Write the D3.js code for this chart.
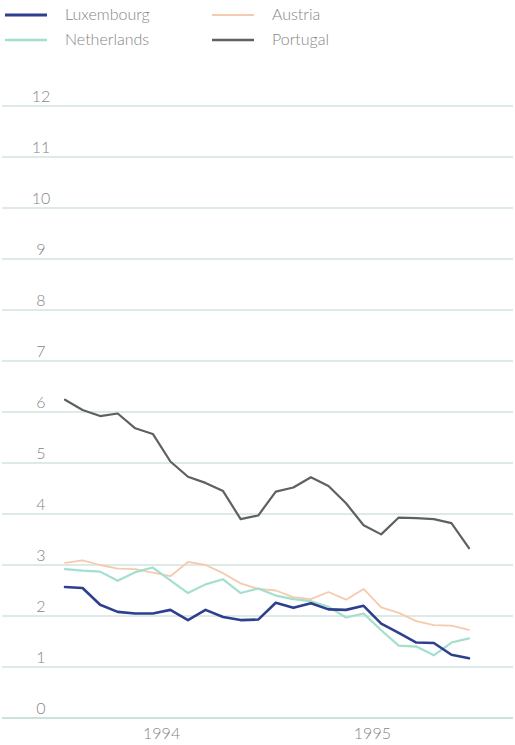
<!DOCTYPE html>
<html>
<head>
<meta charset="utf-8">
<script src="https://cdn.jsdelivr.net/npm/d3@7"></script>
<style>
  html, body { margin: 0; padding: 0; background: #ffffff; }
  svg { display: block; }
  text { font-family: Lato, "Open Sans", sans-serif; font-weight: 300; fill: #858585; }
</style>
</head>
<body>
<svg id="chart" width="515" height="745"></svg>
<script>
// Monthly categories, January 1994 to December 1995
const months = [
  "Jan 1994", "Feb 1994", "Mar 1994", "Apr 1994", "May 1994", "Jun 1994",
  "Jul 1994", "Aug 1994", "Sep 1994", "Oct 1994", "Nov 1994", "Dec 1994",
  "Jan 1995", "Feb 1995", "Mar 1995", "Apr 1995", "May 1995", "Jun 1995",
  "Jul 1995", "Aug 1995", "Sep 1995", "Oct 1995", "Nov 1995", "Dec 1995"
];
const years = ["1994", "1995"];
const yTicks = [0, 1, 2, 3, 4, 5, 6, 7, 8, 9, 10, 11, 12];

// Series values
const luxembourg = [2.57, 2.55, 2.22, 2.08, 2.05, 2.05, 2.12, 1.92, 2.12, 1.98, 1.92, 1.93,
                    2.26, 2.16, 2.25, 2.13, 2.12, 2.20, 1.85, 1.67, 1.48, 1.47, 1.24, 1.17];
const netherlands = [2.92, 2.89, 2.87, 2.69, 2.86, 2.95, 2.70, 2.45, 2.62, 2.72, 2.45, 2.54,
                     2.40, 2.33, 2.29, 2.18, 1.97, 2.05, 1.72, 1.42, 1.40, 1.23, 1.48, 1.56];
const austria = [3.04, 3.09, 3.00, 2.93, 2.92, 2.85, 2.78, 3.06, 3.00, 2.84, 2.64, 2.53,
                 2.50, 2.37, 2.33, 2.47, 2.32, 2.53, 2.17, 2.06, 1.90, 1.82, 1.81, 1.73];
const portugal = [6.24, 6.04, 5.92, 5.97, 5.68, 5.57, 5.03, 4.73, 4.61, 4.45, 3.90, 3.97,
                  4.44, 4.52, 4.72, 4.55, 4.21, 3.78, 3.60, 3.93, 3.92, 3.90, 3.82, 3.33];

const seriesNames = ["Luxembourg", "Netherlands", "Austria", "Portugal"];
const seriesValues = [luxembourg, netherlands, austria, portugal];
const seriesColors = ["#2e3f8d", "#a3dfcd", "#f6caae", "#5e6164"];
const seriesWidths = [2.6, 2.2, 1.8, 2.2];

const svg = d3.select("#chart");

const x = d3.scalePoint().domain(months).range([65, 469]);
const step = x.step();
const yearBand = d3.scaleBand().domain(years)
  .range([x(months[0]) - step / 2, x(months[months.length - 1]) + step / 2]);
const y = d3.scaleLinear().domain([0, 12]).range([718, 106]);

// Horizontal gridlines
svg.append("g")
  .selectAll("line")
  .data(yTicks)
  .join("line")
  .attr("x1", 2)
  .attr("x2", 513)
  .attr("y1", d => y(d))
  .attr("y2", d => y(d))
  .attr("stroke", d => d === 0 ? "#b9dad3" : "#d3e3df")
  .attr("stroke-width", 1.4);

// Y axis labels sit just above each gridline
const yAxis = svg.append("g")
  .attr("transform", "translate(41,0)")
  .call(d3.axisLeft(y).tickValues(yTicks).tickSize(0).tickFormat(d3.format("d")));
yAxis.select(".domain").remove();
yAxis.selectAll("text")
  .attr("x", 0)
  .attr("dy", "-0.3em")
  .attr("text-anchor", "middle")
  .attr("fill", "#8a8a8a")
  .style("font-family", "Lato, sans-serif")
  .style("font-weight", 300)
  .style("font-size", "16px");

// Year labels centred in each year's band
const xAxis = svg.append("g")
  .attr("transform", "translate(0,724)")
  .call(d3.axisBottom(yearBand).tickSize(0).tickPadding(0));
xAxis.select(".domain").remove();
xAxis.selectAll("text")
  .attr("dy", "0.95em")
  .attr("fill", "#8a8a8a")
  .style("font-family", "Lato, sans-serif")
  .style("font-weight", 300)
  .style("font-size", "16px");

// Series lines
const line = d3.line()
  .x((d, i) => x(months[i]))
  .y(d => y(d));

const order = [2, 1, 0, 3];
svg.append("g")
  .selectAll("path")
  .data(order)
  .join("path")
  .attr("d", i => line(seriesValues[i]))
  .attr("fill", "none")
  .attr("stroke", i => seriesColors[i])
  .attr("stroke-width", i => seriesWidths[i])
  .attr("stroke-linejoin", "round")
  .attr("stroke-linecap", "round");

// Legend: two columns, two rows
const legendPos = [[5, 15], [5, 40], [212, 15], [212, 40]];
const legend = svg.append("g")
  .selectAll("g")
  .data(seriesNames)
  .join("g")
  .attr("transform", (d, i) => `translate(${legendPos[i][0]},${legendPos[i][1]})`);
legend.append("line")
  .attr("x1", 0).attr("x2", 42)
  .attr("stroke", (d, i) => seriesColors[i])
  .attr("stroke-width", (d, i) => seriesWidths[i] + 0.4);
legend.append("text")
  .attr("x", 60)
  .attr("dy", "0.32em")
  .attr("fill", "#7a7a7a")
  .style("font-size", "16px")
  .text(d => d);
</script>
</body>
</html>
